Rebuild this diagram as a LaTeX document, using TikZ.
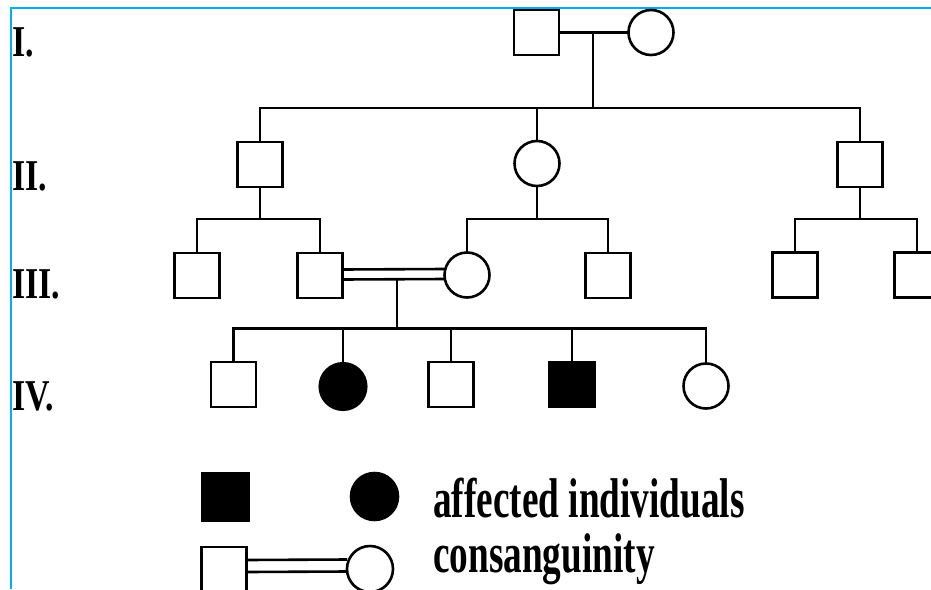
\documentclass[tikz,border=0pt]{standalone}
\usepackage{fontspec}
\setmainfont{Liberation Serif}
\usepackage{graphicx}
\definecolor{frameblue}{RGB}{0,174,239}
\tikzset{
  ln/.style={line width=2.6pt},
  male/.style={draw, rectangle, minimum size=45pt, inner sep=0pt, outer sep=0pt, line width=2.6pt},
  female/.style={draw, circle, minimum size=45pt, inner sep=0pt, outer sep=0pt, line width=2.6pt},
  aff/.style={fill=black},
  gen/.style={anchor=base west, inner sep=0pt},
}
\newcommand\genlab[1]{\scalebox{0.77}[1]{\fontsize{44}{48}\selectfont\bfseries #1}}
\newcommand\legtext[1]{\scalebox{0.665}[1]{\fontsize{56}{60}\selectfont\bfseries #1}}
\begin{document}
\begin{tikzpicture}[x=1pt,y=-1pt]
\clip (0,0) rectangle (931,589);
\fill[white] (0,0) rectangle (931,589);
\draw[frameblue, line width=2pt] (931,7.7) -- (11,7.7) -- (11,589);

% generation labels
\node[gen] (gI)   at (12,56.7) {\genlab{I.}};
\node[gen] (gII)  at (12,190) {\genlab{II.}};
\node[gen] (gIII) at (12,298.3) {\genlab{III.}};
\node[gen] (gIV)  at (12,410) {\genlab{IV.}};

% reference levels
\coordinate (s1) at (593,108);
\coordinate (s2) at (0,219);
\coordinate (s3) at (0,328.5);

% generation I
\node[male] (I1) at (536.5,32.5) {};
\node[female] (I2) at (651,32.5) {};
\draw[ln] (I1.east) -- (I2.west);
\coordinate (m1) at (593,32.5);
\draw[ln] (m1) -- (s1);

% generation II
\node[male] (II1) at (260,164.5) {};
\node[female] (II2) at (537,163.5) {};
\node[male] (II3) at (860,164.5) {};
\draw[ln] (II1.north) -- (II1 |- s1) -- (II3 |- s1) -- (II3.north);
\draw[ln] (II2.north) -- (II2 |- s1);

% generation III
\node[male] (III1) at (197,275.5) {};
\node[male] (III2) at (320,275.5) {};
\node[female] (III3) at (467,275) {};
\node[male] (III4) at (608,275.5) {};
\node[male] (III5) at (795,275) {};
\node[male] (III6) at (917,275) {};
\draw[ln] (II1.south) -- (II1 |- s2);
\draw[ln] (III1.north) -- (III1 |- s2) -- (III2 |- s2) -- (III2.north);
\draw[ln] (II2.south) -- (II2 |- s2);
\draw[ln] (III3.north) -- (III3 |- s2) -- (III4 |- s2) -- (III4.north);
\draw[ln] (II3.south) -- (II3 |- s2);
\draw[ln] (III5.north) -- (III5 |- s2) -- (III6 |- s2) -- (III6.north);

% consanguineous mating
\draw[ln] ([yshift=6pt]III2.east) -- ([yshift=6pt]III3.west);
\draw[ln] ([yshift=-4pt]III2.east) -- ([yshift=-4pt]III3.west);
\coordinate (c1) at (397,279.5);
\draw[ln] (c1) -- (c1 |- s3);

% generation IV
\node[male] (IV1) at (233.5,384.5) {};
\node[female, aff, minimum size=46.5pt] (IV2) at (343,386.5) {};
\node[male] (IV3) at (451,384.5) {};
\node[male, aff] (IV4) at (572,384.5) {};
\node[female] (IV5) at (706,386) {};
\draw[ln] (IV1.north) -- (IV1 |- s3) -- (IV5 |- s3) -- (IV5.north);
\draw[ln] (IV2.north) -- (IV2 |- s3);
\draw[ln] (IV3.north) -- (IV3 |- s3);
\draw[ln] (IV4.north) -- (IV4 |- s3);

% legend
\node[male, aff, minimum size=47pt] (L1) at (225.5,497) {};
\node[female, aff, minimum size=47pt] (L2) at (374.5,496.5) {};
\node[male] (L3) at (224,569.5) {};
\node[female, minimum size=46pt] (L4) at (370,569) {};
\draw[ln] ([yshift=9.5pt]L3.east) -- ([yshift=9.5pt]L4.west);
\draw[ln] ([yshift=-2.5pt]L3.east) -- ([yshift=-2.5pt]L4.west);
\node[gen] (t1) at (433,517) {\legtext{affected individuals}};
\node[gen] (t2) at (433,572) {\legtext{consanguinity}};
\end{tikzpicture}
\end{document}
